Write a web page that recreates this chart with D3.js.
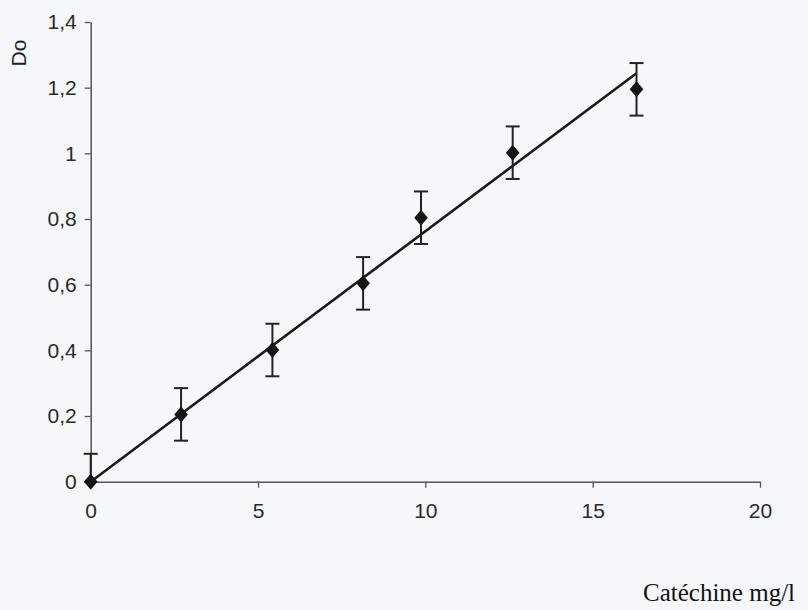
<!DOCTYPE html>
<html lang="fr">
<head>
  <meta charset="UTF-8">
  <title>Catéchine</title>
  <style>
    html, body { margin: 0; padding: 0; background: #f6f7fa; }
    svg { display: block; }
  </style>
</head>
<body>
  <svg width="808" height="610"></svg>

  <script src="https://d3js.org/d3.v7.min.js"></script>
  <script>
    // valeurs
    const concentrations = [0, 2.7, 5.43, 8.14, 9.87, 12.61, 16.31];
    const densites = [0, 0.205, 0.401, 0.604, 0.804, 1.002, 1.195];
    const erreurs = [0.085, 0.08, 0.08, 0.08, 0.08, 0.08, 0.08];
    const droite = [[0, 0], [16.31, 1.244]];
    const xTicks = [0, 5, 10, 15, 20];
    const yTicks = [0, 0.2, 0.4, 0.6, 0.8, 1, 1.2, 1.4];

    const SANS = "'Liberation Sans', Arial, sans-serif";
    const SERIF = "'Liberation Serif', 'Times New Roman', serif";

    const svg = d3.select("svg");
    const x = d3.scaleLinear().domain([0, 20]).range([90.7, 760]);
    const y = d3.scaleLinear().domain([0, 1.4]).range([481.7, 22]);
    const fmt = d => String(d).replace(".", ",");

    // axes
    const xAxis = svg.append("g")
      .attr("transform", `translate(0,${y(0)})`)
      .call(d3.axisBottom(x).tickValues(xTicks).tickSize(6).tickPadding(15).tickSizeOuter(0).tickFormat(fmt));
    const yAxis = svg.append("g")
      .attr("transform", `translate(${x(0)},0)`)
      .call(d3.axisLeft(y).tickValues(yTicks).tickSize(6).tickPadding(8).tickSizeOuter(0).tickFormat(fmt));

    [xAxis, yAxis].forEach(a => {
      a.select(".domain").attr("stroke", "#555").attr("stroke-width", 1.5);
      a.selectAll(".tick line").attr("stroke", "#555").attr("stroke-width", 1.3);
      a.selectAll(".tick text")
        .attr("fill", "#2a2a2a")
        .style("font-family", SANS)
        .style("font-size", "21px");
    });

    svg.append("text")
      .attr("transform", "translate(26,53) rotate(-90)")
      .attr("text-anchor", "middle")
      .style("font-family", SANS)
      .style("font-size", "21px")
      .attr("fill", "#222")
      .text("Do");

    svg.append("text")
      .attr("x", 643)
      .attr("y", 601)
      .style("font-family", SERIF)
      .style("font-size", "25px")
      .attr("fill", "#111")
      .text("Catéchine mg/l");

    // droite de régression
    svg.append("path")
      .datum(droite)
      .attr("fill", "none")
      .attr("stroke", "#1a1a1a")
      .attr("stroke-width", 2.6)
      .attr("d", d3.line().x(d => x(d[0])).y(d => y(d[1])));

    // barres d'erreur
    const pts = concentrations.map((c, i) => ({ c, d: densites[i], e: erreurs[i] }));
    const eb = svg.append("g").attr("stroke", "#222").attr("stroke-width", 2).attr("fill", "none");
    pts.forEach(p => {
      const lo = Math.max(0, p.d - p.e), hi = p.d + p.e;
      eb.append("line").attr("x1", x(p.c)).attr("x2", x(p.c)).attr("y1", y(lo)).attr("y2", y(hi));
      eb.append("line").attr("x1", x(p.c) - 7).attr("x2", x(p.c) + 7).attr("y1", y(hi)).attr("y2", y(hi));
      if (p.d - p.e > 0) {
        eb.append("line").attr("x1", x(p.c) - 7).attr("x2", x(p.c) + 7).attr("y1", y(lo)).attr("y2", y(lo));
      }
    });

    // losanges
    const losange = {
      draw(ctx, size) {
        const h = Math.sqrt(size) / 2, w = h * 0.85;
        ctx.moveTo(0, -h); ctx.lineTo(w, 0); ctx.lineTo(0, h); ctx.lineTo(-w, 0); ctx.closePath();
      }
    };
    svg.append("g").selectAll("path")
      .data(pts)
      .join("path")
      .attr("transform", p => `translate(${x(p.c)},${y(p.d)})`)
      .attr("d", d3.symbol().type(losange).size(256))
      .attr("fill", "#151515");
  </script>
</body>
</html>
